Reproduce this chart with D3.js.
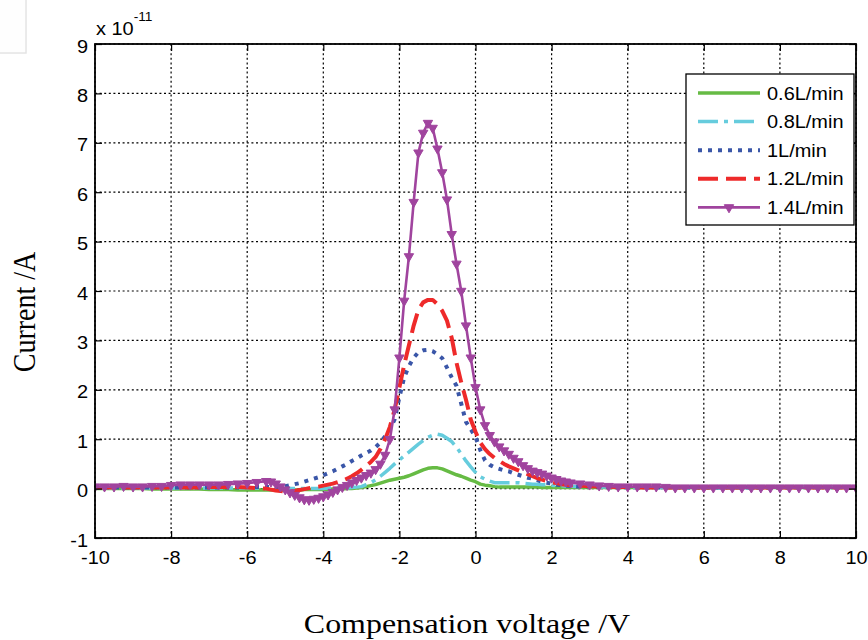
<!DOCTYPE html>
<html>
<head>
<meta charset="utf-8">
<script src="https://cdn.jsdelivr.net/npm/d3@7"></script>
<style>
  html, body { margin: 0; padding: 0; background: #fff; }
  svg { display: block; }
</style>
</head>
<body>
<svg id="chart" width="868" height="640"></svg>
<script>
// Compensation-voltage sweep (V); finer steps through the peak region
const voltage = [
  -10, -9.75, -9.5, -9.25, -9, -8.75, -8.5, -8.25, -8,
  -7.75, -7.5, -7.25, -7, -6.75, -6.5, -6.25, -6, -5.75,
  -5.5, -5.375, -5.25, -5.125, -5, -4.875, -4.75, -4.625,
  -4.5, -4.375, -4.25, -4.125, -4, -3.875, -3.75, -3.625,
  -3.5, -3.375, -3.25, -3.125, -3, -2.875, -2.75, -2.625,
  -2.5, -2.375, -2.25, -2.125, -2, -1.875, -1.75, -1.625,
  -1.5, -1.375, -1.25, -1.125, -1, -0.875, -0.75, -0.625,
  -0.5, -0.375, -0.25, -0.125, 0, 0.125, 0.25, 0.375,
  0.5, 0.625, 0.75, 0.875, 1, 1.125, 1.25, 1.375,
  1.5, 1.625, 1.75, 1.875, 2, 2.125, 2.25, 2.375,
  2.5,
  2.75, 3, 3.25, 3.5, 3.75, 4, 4.25, 4.5, 4.75, 5,
  5.25, 5.5, 5.75, 6, 6.25, 6.5, 6.75, 7, 7.25, 7.5,
  7.75, 8, 8.25, 8.5, 8.75, 9, 9.25, 9.5, 9.75, 10
];

// Measured current (units of 1e-11 A) for each flow rate
const flow06 = [
  0.00, 0.00, 0.00, 0.00, 0.00, 0.00, -0.01, -0.01, -0.01,
  -0.01, -0.01, -0.01, -0.02, -0.02, -0.02, -0.03, -0.03, -0.03,
  -0.03, -0.03, -0.03, -0.03, -0.03, -0.03, -0.03, -0.03,
  -0.02, -0.02, -0.02, -0.02, -0.02, -0.02, -0.01, -0.01,
  -0.01, 0.00, 0.00, 0.01, 0.02, 0.04, 0.06, 0.08,
  0.11, 0.14, 0.17, 0.19, 0.21, 0.23, 0.26, 0.30,
  0.34, 0.38, 0.41, 0.42, 0.42, 0.40, 0.36, 0.32,
  0.28, 0.25, 0.21, 0.17, 0.14, 0.09, 0.07, 0.06,
  0.04, 0.03, 0.03, 0.03, 0.03, 0.03, 0.03, 0.03,
  0.03, 0.03, 0.02, 0.02, 0.02, 0.02, 0.02, 0.02,
  0.02,
  0.02, 0.02, 0.02, 0.02, 0.02, 0.02, 0.02, 0.02, 0.02, 0.02,
  0.02, 0.02, 0.02, 0.02, 0.02, 0.02, 0.02, 0.02, 0.02, 0.02,
  0.02, 0.02, 0.02, 0.02, 0.02, 0.02, 0.02, 0.02, 0.02, 0.02
];
const flow08 = [
  0.01, 0.01, 0.01, 0.01, 0.01, 0.01, 0.01, 0.01, 0.01,
  0.01, 0.01, 0.01, 0.01, 0.01, 0.01, 0.01, 0.01, 0.01,
  0.00, 0.00, 0.00, 0.00, 0.00, 0.00, 0.00, 0.00,
  0.00, 0.00, 0.00, 0.00, 0.00, 0.01, 0.01, 0.01,
  0.01, 0.01, 0.02, 0.03, 0.04, 0.08, 0.12, 0.18,
  0.25, 0.33, 0.41, 0.50, 0.58, 0.66, 0.74, 0.82,
  0.90, 0.97, 1.04, 1.08, 1.10, 1.08, 1.02, 0.95,
  0.84, 0.70, 0.56, 0.44, 0.33, 0.24, 0.19, 0.15,
  0.12, 0.12, 0.12, 0.12, 0.12, 0.12, 0.11, 0.10,
  0.09, 0.09, 0.08, 0.08, 0.07, 0.06, 0.06, 0.05,
  0.05,
  0.04, 0.04, 0.03, 0.03, 0.03, 0.02, 0.02, 0.02, 0.02, 0.02,
  0.02, 0.02, 0.02, 0.02, 0.02, 0.02, 0.02, 0.02, 0.02, 0.02,
  0.02, 0.02, 0.02, 0.02, 0.02, 0.02, 0.02, 0.02, 0.02, 0.02
];
const flow10 = [
  0.02, 0.02, 0.02, 0.02, 0.02, 0.02, 0.02, 0.02, 0.02,
  0.02, 0.02, 0.02, 0.02, 0.02, 0.02, 0.02, 0.03, 0.03,
  0.03, 0.03, 0.03, 0.04, 0.05, 0.07, 0.09, 0.11,
  0.14, 0.17, 0.20, 0.23, 0.27, 0.31, 0.35, 0.40,
  0.45, 0.50, 0.56, 0.61, 0.67, 0.72, 0.77, 0.84,
  0.93, 1.06, 1.20, 1.40, 1.85, 2.25, 2.48, 2.65,
  2.76, 2.80, 2.81, 2.78, 2.72, 2.64, 2.45, 2.25,
  2.08, 1.72, 1.35, 1.20, 1.05, 0.78, 0.57, 0.48,
  0.43, 0.40, 0.37, 0.35, 0.31, 0.28, 0.25, 0.22,
  0.20, 0.17, 0.14, 0.12, 0.10, 0.08, 0.07, 0.06,
  0.05,
  0.04, 0.04, 0.03, 0.03, 0.03, 0.02, 0.02, 0.02, 0.02, 0.02,
  0.02, 0.02, 0.02, 0.02, 0.02, 0.02, 0.02, 0.02, 0.02, 0.02,
  0.02, 0.02, 0.02, 0.02, 0.02, 0.02, 0.02, 0.02, 0.02, 0.02
];
const flow12 = [
  0.02, 0.02, 0.02, 0.02, 0.02, 0.02, 0.02, 0.02, 0.02,
  0.02, 0.02, 0.02, 0.03, 0.03, 0.03, 0.03, 0.02, 0.01,
  0.00, -0.02, -0.04, -0.05, -0.06, -0.06, -0.05, -0.03,
  -0.01, 0.01, 0.03, 0.04, 0.06, 0.08, 0.10, 0.13,
  0.16, 0.20, 0.25, 0.31, 0.38, 0.46, 0.54, 0.64,
  0.80, 1.00, 1.25, 1.60, 2.05, 2.50, 2.90, 3.30,
  3.62, 3.77, 3.82, 3.82, 3.73, 3.60, 3.40, 3.05,
  2.55, 2.15, 1.80, 1.40, 1.15, 0.93, 0.80, 0.70,
  0.62, 0.56, 0.50, 0.45, 0.41, 0.37, 0.33, 0.29,
  0.25, 0.21, 0.18, 0.15, 0.13, 0.11, 0.09, 0.08,
  0.07,
  0.06, 0.05, 0.04, 0.04, 0.03, 0.03, 0.02, 0.02, 0.02, 0.02,
  0.02, 0.02, 0.02, 0.02, 0.02, 0.02, 0.02, 0.02, 0.02, 0.02,
  0.02, 0.02, 0.02, 0.02, 0.02, 0.02, 0.02, 0.02, 0.02, 0.02
];
const flow14 = [
  0.04, 0.04, 0.04, 0.05, 0.04, 0.04, 0.05, 0.05, 0.07,
  0.08, 0.08, 0.08, 0.08, 0.08, 0.09, 0.10, 0.11, 0.13,
  0.15, 0.14, 0.10, 0.04, -0.02, -0.08, -0.13, -0.18,
  -0.22, -0.23, -0.21, -0.19, -0.16, -0.12, -0.07, -0.02,
  0.03, 0.07, 0.12, 0.17, 0.22, 0.27, 0.32, 0.39,
  0.50, 0.68, 1.00, 1.60, 2.65, 3.80, 4.70, 5.80,
  6.80, 7.20, 7.40, 7.30, 6.88, 6.40, 5.85, 5.15,
  4.55, 4.00, 3.30, 2.65, 2.05, 1.60, 1.28, 1.08,
  0.95, 0.85, 0.77, 0.70, 0.62, 0.55, 0.47, 0.41,
  0.36, 0.33, 0.30, 0.26, 0.22, 0.19, 0.16, 0.14,
  0.12,
  0.10, 0.08, 0.06, 0.05, 0.04, 0.04, 0.04, 0.04, 0.04, 0.03,
  0.02, 0.02, 0.02, 0.02, 0.02, 0.02, 0.02, 0.02, 0.02, 0.02,
  0.02, 0.02, 0.02, 0.02, 0.02, 0.02, 0.02, 0.02, 0.02, 0.02
];

const seriesNames = ["0.6L/min", "0.8L/min", "1L/min", "1.2L/min", "1.4L/min"];
const seriesValues = [flow06, flow08, flow10, flow12, flow14];
const xTickValues = [-10, -8, -6, -4, -2, 0, 2, 4, 6, 8, 10];
const yTickValues = [-1, 0, 1, 2, 3, 4, 5, 6, 7, 8, 9];
const yExponentLabel = "-11";

// Line styles per series
const styles = [
  { color: "#66bb44", width: 3.5, dash: null,          marker: false },
  { color: "#66ccdd", width: 3.5, dash: "20,6,4,6",    marker: false },
  { color: "#3a56a8", width: 4,   dash: "4,6",         marker: false },
  { color: "#ee2a2a", width: 4,   dash: "20,8",        marker: false },
  { color: "#a0449e", width: 2.6, dash: null,          marker: true  }
];

const margin = { left: 95, right: 12, top: 44, bottom: 102 };
const W = 868, H = 640;
const plotW = W - margin.left - margin.right;
const plotH = H - margin.top - margin.bottom;
const STRETCH = 1.14;

const svg = d3.select("#chart");
const fontSans = "'Liberation Sans', Arial, Helvetica, sans-serif";
const fontSerif = "'Liberation Serif', 'Times New Roman', serif";

// small empty panel at the top-left corner
svg.append("rect")
  .attr("x", -2).attr("y", -2).attr("width", 28).attr("height", 55)
  .attr("fill", "#fefefe").attr("stroke", "#e4e4e4").attr("stroke-width", 1.5);

const x = d3.scaleLinear().domain([-10, 10]).range([0, plotW]);
const y = d3.scaleLinear().domain([-1, 9]).range([plotH, 0]);

const g = svg.append("g").attr("transform", `translate(${margin.left},${margin.top})`);

// dotted grid
const grid = g.append("g").attr("stroke", "#000").attr("stroke-width", 1.2)
  .attr("stroke-dasharray", "2,2.6");
grid.selectAll("line.vx").data(xTickValues).join("line")
  .attr("x1", d => x(d)).attr("x2", d => x(d))
  .attr("y1", 0).attr("y2", plotH);
grid.selectAll("line.hy").data(yTickValues).join("line")
  .attr("y1", d => y(d)).attr("y2", d => y(d))
  .attr("x1", 0).attr("x2", plotW);

// data lines, clipped to the axes box
g.append("clipPath").attr("id", "plotClip")
  .append("rect").attr("width", plotW).attr("height", plotH);
const plot = g.append("g").attr("clip-path", "url(#plotClip)");

const line = d3.line().x((d, i) => x(voltage[i])).y(d => y(d));
const triangle = d3.symbol().type(d3.symbolTriangle).size(38);

seriesValues.forEach((vals, k) => {
  const s = styles[k];
  plot.append("path")
    .datum(vals)
    .attr("fill", "none")
    .attr("stroke", s.color)
    .attr("stroke-width", s.width)
    .attr("stroke-linejoin", "round")
    .attr("stroke-dasharray", s.dash)
    .attr("d", line);
  if (s.marker) {
    plot.append("g").selectAll("path").data(vals).join("path")
      .attr("d", triangle)
      .attr("transform", (d, i) => `translate(${x(voltage[i])},${y(d)}) rotate(180)`)
      .attr("fill", s.color).attr("stroke", s.color).attr("stroke-width", 1);
  }
});

// axes with inward ticks on all four sides
const fmt = d => String(d);
const xAxis = g.append("g").attr("transform", `translate(0,${plotH})`)
  .call(d3.axisBottom(x).tickValues(xTickValues).tickFormat(fmt)
    .tickSizeInner(-7).tickSizeOuter(0).tickPadding(14));
const yAxis = g.append("g")
  .call(d3.axisLeft(y).tickValues(yTickValues).tickFormat(fmt)
    .tickSizeInner(-7).tickSizeOuter(0).tickPadding(7));
g.append("g").call(d3.axisTop(x).tickValues(xTickValues).tickFormat("")
  .tickSizeInner(-7).tickSizeOuter(0));
g.append("g").attr("transform", `translate(${plotW},0)`)
  .call(d3.axisRight(y).tickValues(yTickValues).tickFormat("")
    .tickSizeInner(-7).tickSizeOuter(0));

g.selectAll(".domain").remove();
g.selectAll(".tick line").attr("stroke", "#000").attr("stroke-width", 1.2);

[xAxis, yAxis].forEach(ax => ax.selectAll("text")
  .attr("fill", "#000")
  .style("font-family", fontSans)
  .style("font-size", "17.5px"));
yAxis.selectAll("text").attr("dy", "0.46em");

// box frame
g.append("rect").attr("width", plotW).attr("height", plotH)
  .attr("fill", "none").attr("stroke", "#000").attr("stroke-width", 1.8);

// exponent label above the y axis
const expo = svg.append("text")
  .attr("x", margin.left + 1).attr("y", 35)
  .style("font-family", fontSans).style("font-size", "17.5px").attr("fill", "#000");
expo.append("tspan").text("x 10");
expo.append("tspan").attr("dy", -14).style("font-size", "12px").text(yExponentLabel);

// legend
const lg = svg.append("g").attr("transform", "translate(686,74)");
lg.append("rect").attr("width", 168).attr("height", 151)
  .attr("fill", "#fff").attr("stroke", "#000").attr("stroke-width", 1.3);
seriesNames.forEach((name, k) => {
  const s = styles[k];
  const ry = 19 + k * 28.6;
  lg.append("line").attr("x1", 12).attr("x2", 74).attr("y1", ry).attr("y2", ry)
    .attr("stroke", s.color).attr("stroke-width", s.width)
    .attr("stroke-dasharray", s.dash);
  if (s.marker) {
    lg.append("path").attr("d", triangle)
      .attr("transform", `translate(43,${ry}) rotate(180)`)
      .attr("fill", s.color).attr("stroke", s.color);
  }
  lg.append("text").attr("x", 81).attr("y", ry + 6.5)
    .style("font-family", fontSans).style("font-size", "17.5px")
    .attr("fill", "#000").text(name);
});

// axis titles
svg.append("text")
  .attr("x", 467).attr("y", 633)
  .attr("text-anchor", "middle")
  .style("font-family", fontSerif).style("font-size", "28px")
  .attr("fill", "#000").text("Compensation voltage /V");
svg.append("text")
  .attr("transform", `translate(35,312) scale(${STRETCH},1) rotate(-90)`)
  .attr("text-anchor", "middle")
  .style("font-family", fontSerif).style("font-size", "28px")
  .attr("fill", "#000").text("Current /A");

// widen horizontal text slightly to the figure's proportions
svg.selectAll("text").each(function () {
  const t = d3.select(this);
  if ((t.attr("transform") || "").includes("rotate")) return;
  const len = this.getComputedTextLength();
  if (len > 0 && t.selectAll("tspan").empty()) {
    t.attr("textLength", len * STRETCH).attr("lengthAdjust", "spacingAndGlyphs");
  }
});
expo.selectAll("tspan").each(function () {
  const len = this.getComputedTextLength();
  d3.select(this).attr("textLength", len * STRETCH).attr("lengthAdjust", "spacingAndGlyphs");
});
</script>
</body>
</html>
